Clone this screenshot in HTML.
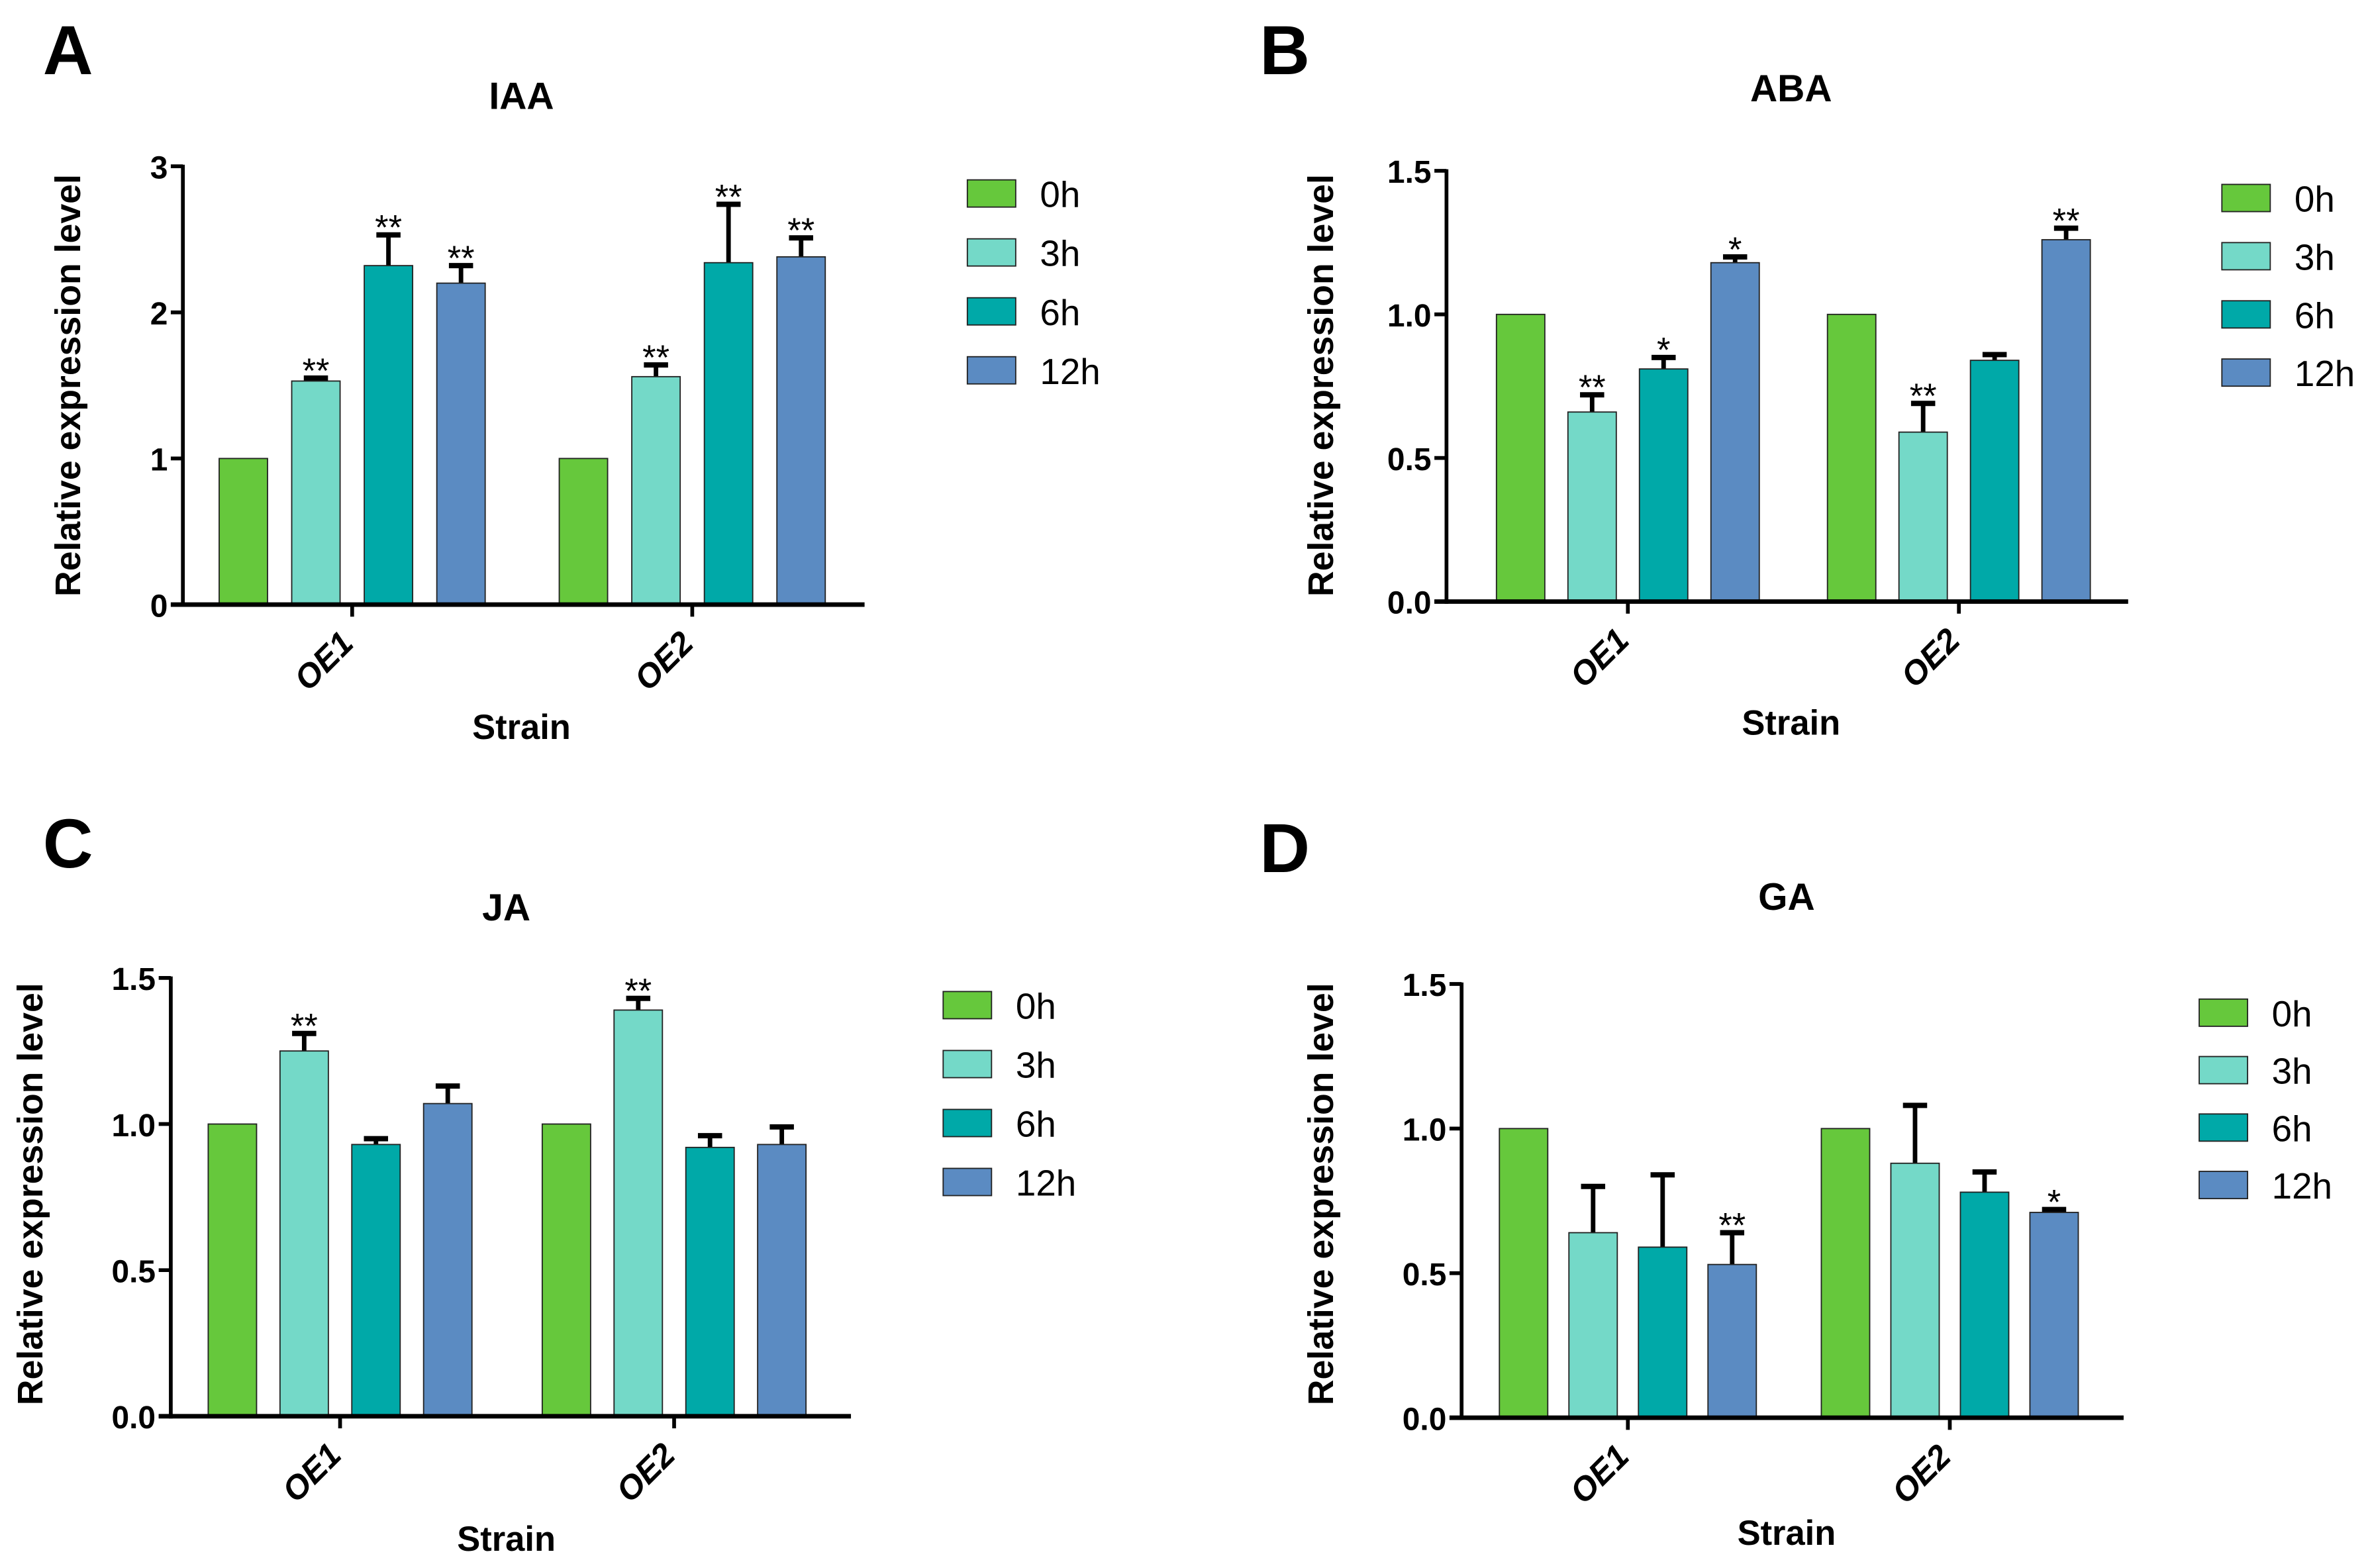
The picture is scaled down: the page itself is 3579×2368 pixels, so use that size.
<!DOCTYPE html>
<html><head><meta charset="utf-8"><style>
html,body{margin:0;padding:0;background:#fff}
svg{display:block}
text{font-family:"Liberation Sans",sans-serif}
.n{font-family:"Liberation Sans Narrow","Liberation Sans",sans-serif}
</style></head><body>
<svg id="fig" width="3579" height="2368" viewBox="0 0 1568 1037.4" preserveAspectRatio="none" xmlns="http://www.w3.org/2000/svg"></svg>
<script>
const categories = ["OE1","OE2"];
const series = ["0h","3h","6h","12h"];
const colors = ["#66c83c","#74d9c8","#00a9a8","#5b8bc2"];
const iaaValues = [[1,1.53,2.32,2.20],[1,1.56,2.34,2.38]];
const iaaErrors = [[0,0.02,0.21,0.12],[0,0.08,0.40,0.13]];
const iaaStars = [["","**","**","**"],["","**","**","**"]];
const iaaTicks = ["0","1","2","3"];
const abaValues = [[1,0.66,0.81,1.18],[1,0.59,0.84,1.26]];
const abaErrors = [[0,0.06,0.04,0.02],[0,0.10,0.02,0.04]];
const abaStars = [["","**","*","*"],["","**","","**"]];
const halfTicks = ["0.0","0.5","1.0","1.5"];
const jaValues = [[1,1.25,0.93,1.07],[1,1.39,0.92,0.93]];
const jaErrors = [[0,0.06,0.02,0.06],[0,0.04,0.04,0.06]];
const jaStars = [["","**","",""],["","**","",""]];
const gaValues = [[1,0.64,0.59,0.53],[1,0.88,0.78,0.71]];
const gaErrors = [[0,0.16,0.25,0.11],[0,0.20,0.07,0.01]];
const gaStars = [["","","","**"],["","","","*"]];

const NS="http://www.w3.org/2000/svg";
const svg=document.getElementById('fig');
function mk(tag,attrs,parent,txt){const e=document.createElementNS(NS,tag);for(const k in attrs)e.setAttribute(k,attrs[k]);if(txt!==undefined)e.textContent=txt;(parent||svg).appendChild(e);return e;}

function panel(p){
  const g=mk('g',{});
  
  
  const ymax=parseFloat(p.ticks[p.ticks.length-1]);
  const y=v=>p.y0-(v/ymax)*(p.y0-p.ytop);
  const L=mk('text',{x:p.lx,y:p.ly,'font-size':46,'font-weight':'bold','text-anchor':'middle'},g,p.letter);
  
  
  const T=mk('text',{x:p.tx,y:p.ty,'font-size':25,'font-weight':'bold','text-anchor':'middle'},g,p.title);
  
  
  categories.forEach((c,ci)=>{
    series.forEach((s,si)=>{
      const cx=p.cat[ci]+(si-1.5)*p.step;
      const v=p.vals[ci][si], e=p.errs[ci][si];
      const top=y(v);
      if(e>0){
        const ey=y(v+e);
        const l=mk('line',{x1:cx,x2:cx,y1:top,y2:ey,stroke:'#000','stroke-width':3},g);
        
        
        const cap=mk('line',{x1:cx-8,x2:cx+8,y1:ey,y2:ey,stroke:'#000','stroke-width':3.5},g);
        
        
      }
      const r=mk('rect',{x:cx-16,y:top,width:32,height:p.y0-top,fill:colors[si],stroke:'#222','stroke-width':0.8},g);
      
      
      const st=p.stars[ci][si];
      if(st){
        const sy=y(v+e)-3;
        const t=mk('text',{x:cx,y:sy+6,'font-size':23,'text-anchor':'middle'},g,st);
        
        
      }
    });
    const tk=mk('line',{x1:p.cat[ci],x2:p.cat[ci],y1:p.y0,y2:p.y0+8,stroke:'#000','stroke-width':2.5},g);
    
    
    const lx=p.cat[ci]+2, ly=p.y0+27;
    const tl=mk('text',{x:lx,y:ly,'font-size':22,'font-weight':'bold','font-style':'italic','text-anchor':'end',transform:`rotate(-45 ${lx} ${ly})`},g,c);
    
    
  });
  const ya=mk('line',{x1:p.ax,x2:p.ax,y1:p.ytop-1,y2:p.y0+1.5,stroke:'#000','stroke-width':2.5},g);
  
  
  const xa=mk('line',{x1:p.ax-8,x2:p.xend,y1:p.y0,y2:p.y0,stroke:'#000','stroke-width':3},g);
  
  
  p.ticks.forEach(tv=>{
    const yy=y(parseFloat(tv));
    const l=mk('line',{x1:p.ax-8,x2:p.ax,y1:yy,y2:yy,stroke:'#000','stroke-width':2.5},g);
    
    
    const t=mk('text',{x:p.ax-10,y:yy+8,'font-size':21,'font-weight':'bold','text-anchor':'end',class:'n'},g,tv);
    
    
  });
  const yl=mk('text',{x:p.ylx,y:p.yly,'font-size':23.5,'font-weight':'bold','text-anchor':'middle',transform:`rotate(-90 ${p.ylx} ${p.yly})`},g,'Relative expression level');
  
  
  const xl=mk('text',{x:p.tx,y:p.sy,'font-size':23,'font-weight':'bold','text-anchor':'middle'},g,'Strain');
  
  
  series.forEach((s,si)=>{
    const yy=p.legY+si*p.legStep;
    const r=mk('rect',{x:p.legX,y:yy-9,width:32,height:18,fill:colors[si],stroke:'#222','stroke-width':0.8},g);
    
    
    const t=mk('text',{x:p.legX+48,y:yy+9,'font-size':24,class:'n'},g,s);
    
    
  });
}
panel({letter:'A',title:'IAA',lx:45,ly:49,tx:345,ty:72,ax:121,ytop:110,y0:400,xend:572,cat:[233,458],step:48,
  vals:iaaValues,errs:iaaErrors,stars:iaaStars,ticks:iaaTicks,ylx:53,yly:255,sy:489,legX:640,legY:128,legStep:39});
panel({letter:'B',title:'ABA',lx:850,ly:49,tx:1185,ty:67,ax:957,ytop:113,y0:398,xend:1408,cat:[1077,1296],step:47.3,
  vals:abaValues,errs:abaErrors,stars:abaStars,ticks:halfTicks,ylx:882,yly:255,sy:486,legX:1470,legY:131,legStep:38.5});
panel({letter:'C',title:'JA',lx:45,ly:574,tx:335,ty:609,ax:113,ytop:647,y0:937,xend:563,cat:[225,446],step:47.5,
  vals:jaValues,errs:jaErrors,stars:jaStars,ticks:halfTicks,ylx:28,yly:790,sy:1026,legX:624,legY:665,legStep:39});
panel({letter:'D',title:'GA',lx:850,ly:577,tx:1182,ty:602,ax:967,ytop:651,y0:938,xend:1405,cat:[1077,1290],step:46,
  vals:gaValues,errs:gaErrors,stars:gaStars,ticks:halfTicks,ylx:882,yly:790,sy:1022,legX:1455,legY:670,legStep:38});
</script>
</body></html>
